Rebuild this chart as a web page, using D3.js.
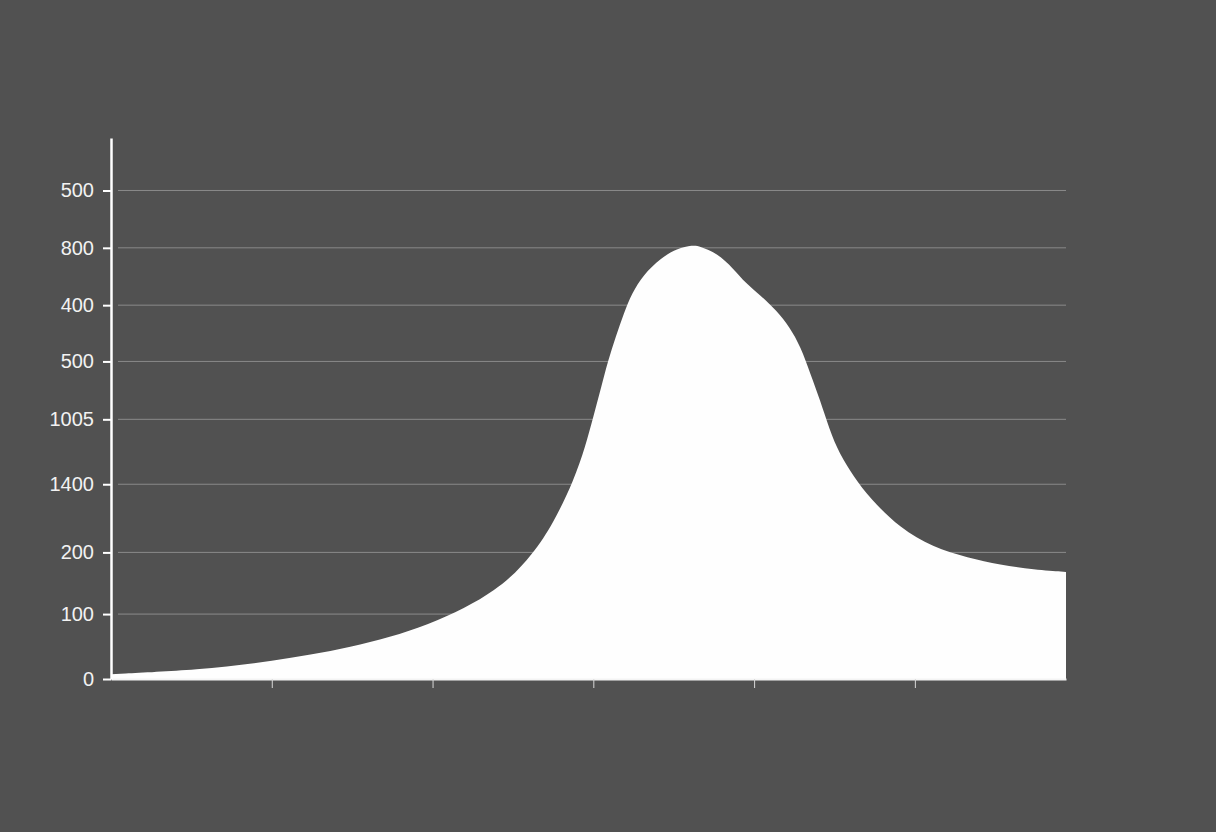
<!DOCTYPE html>
<html>
<head>
<meta charset="utf-8">
<script src="https://cdn.jsdelivr.net/npm/d3@7"></script>
<style>
  html, body { margin: 0; padding: 0; background: #515151; }
  svg { display: block; }
</style>
</head>
<body>
<div id="chart"></div>
<script>
// Data: x positions and values of the curve
const xValues = [0, 0.55, 0.99, 1.49, 1.98, 2.42, 2.63, 2.75, 2.88, 2.95, 3.0, 3.05, 3.09, 3.14, 3.19, 3.24,
  3.31, 3.42, 3.52, 3.62, 3.66, 3.77, 3.87, 3.95, 4.04, 4.14, 4.22, 4.29, 4.35, 4.41, 4.47, 4.53,
  4.62, 4.72, 4.91, 5.11, 5.33, 5.53, 5.74, 5.94];
const yValues = [9, 17, 32, 57, 97, 164, 233, 287, 368, 429, 485, 540, 587, 633, 676, 713,
  747, 778, 796, 802, 800, 787, 759, 731, 709, 681, 651, 614, 564, 516, 460, 417,
  374, 334, 278, 244, 224, 211, 202, 198];

// Tick positions and their labels (as printed)
const yTickValues = [0, 120, 234, 360, 480, 587, 691, 797, 903];
const yTickLabels = ["0", "100", "200", "1400", "1005", "500", "400", "800", "500"];
const xTickValues = [1, 2, 3, 4, 5];

const width = 1216;
const height = 832;

const svg = d3.select("#chart")
  .append("svg")
  .attr("width", width)
  .attr("height", height);

svg.append("rect")
  .attr("width", width)
  .attr("height", height)
  .attr("fill", "#515151");

const x = d3.scaleLinear().domain([0, 5.94]).range([111, 1066]);
const y = d3.scaleLinear().domain([0, 1000]).range([679, 138]);

// Gridlines
svg.append("g")
  .selectAll("line")
  .data(yTickValues.slice(1))
  .join("line")
  .attr("x1", 118)
  .attr("x2", 1066)
  .attr("y1", d => y(d))
  .attr("y2", d => y(d))
  .attr("stroke", "#8a8a8a")
  .attr("stroke-width", 1);

// Area
const points = xValues.map((d, i) => ({ x: d, v: yValues[i] }));
const area = d3.area()
  .x(d => x(d.x))
  .y0(y(0))
  .y1(d => y(d.v))
  .curve(d3.curveBasis);

svg.append("path")
  .datum(points)
  .attr("fill", "#fefefe")
  .attr("d", area);

// X axis
const xAxis = svg.append("g")
  .attr("transform", `translate(0,${y(0)})`)
  .call(d3.axisBottom(x).tickValues(xTickValues).tickSize(9).tickSizeOuter(0).tickFormat(""));
xAxis.select(".domain").attr("stroke", "#f4f4f4").attr("stroke-width", 2);
xAxis.selectAll(".tick line").attr("stroke", "#d8d8d8").attr("stroke-width", 1);

// Y axis
const yAxis = svg.append("g")
  .attr("transform", `translate(${x(0)},0)`)
  .call(d3.axisLeft(y)
    .tickValues(yTickValues)
    .tickSize(8)
    .tickSizeOuter(0)
    .tickPadding(9)
    .tickFormat((d, i) => yTickLabels[i]));
yAxis.select(".domain").attr("stroke", "#ffffff").attr("stroke-width", 2.5);
yAxis.selectAll(".tick line").attr("stroke", "#ffffff").attr("stroke-width", 2);
yAxis.selectAll(".tick text")
  .attr("fill", "#f2f2f2")
  .style("font-family", "'Liberation Sans', Arial, sans-serif")
  .style("font-size", "20px");
</script>
</body>
</html>
